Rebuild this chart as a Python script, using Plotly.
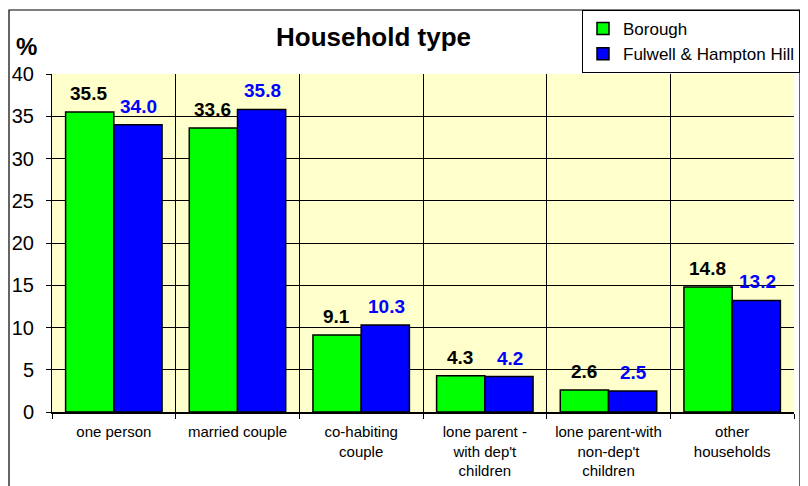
import plotly.graph_objects as go

categories = ["one person", "married couple", "co-habiting<br>couple",
              "lone parent -<br>with dep't<br>children",
              "lone parent-with<br>non-dep't<br>children",
              "other<br>households"]
borough = [35.5, 33.6, 9.1, 4.3, 2.6, 14.8]
fulwell = [34.0, 35.8, 10.3, 4.2, 2.5, 13.2]
y_ticks = [0, 5, 10, 15, 20, 25, 30, 35, 40]

FONT = "Liberation Sans, Arial, sans-serif"

fig = go.Figure()
fig.add_trace(go.Bar(x=categories, y=borough, name="Borough",
                     marker=dict(color="#00FF00", line=dict(color="black", width=1.5))))
fig.add_trace(go.Bar(x=categories, y=fulwell, name="Fulwell & Hampton Hill",
                     marker=dict(color="#0000FF", line=dict(color="black", width=1.5))))

annotations = []
for cat, b, f in zip(categories, borough, fulwell):
    annotations.append(dict(x=cat, y=b, text=f"{b:.1f}", showarrow=False, xshift=-25,
                            yanchor="bottom", yshift=6,
                            font=dict(family=FONT, size=19, color="black", weight="bold")))
    annotations.append(dict(x=cat, y=f, text=f"{f:.1f}", showarrow=False, xshift=25,
                            yanchor="bottom", yshift=6,
                            font=dict(family=FONT, size=19, color="#0000FF", weight="bold")))

annotations.append(dict(xref="paper", yref="paper", x=(373 - 52) / 742, y=(412 - 37) / 338,
                        text="<b>Household type</b>", showarrow=False,
                        xanchor="center", yanchor="middle",
                        font=dict(family=FONT, size=26, color="black")))
annotations.append(dict(xref="paper", yref="paper", x=(26 - 52) / 742, y=(412 - 46) / 338,
                        text="<b>%</b>", showarrow=False,
                        xanchor="center", yanchor="middle",
                        font=dict(family=FONT, size=24, color="black")))

# page body has an 8px margin, so the figure is drawn at (8, 8)
fig.update_layout(
    width=800, height=478,
    margin=dict(l=44, r=14, t=66, b=74, autoexpand=False),
    paper_bgcolor="white",
    plot_bgcolor="#FFFFCC",
    barmode="group",
    bargap=0.22,
    bargroupgap=0,
    font=dict(family=FONT, color="black"),
    showlegend=True,
    legend=dict(x=(800 - 52) / 742, y=(412 - 10) / 338, xanchor="right", yanchor="top",
                bgcolor="white", bordercolor="black", borderwidth=1,
                font=dict(family=FONT, size=17, color="black"),
                tracegroupgap=0, itemwidth=30),
    annotations=annotations,
    shapes=[dict(type="rect", xref="paper", yref="paper",
                 x0=(9 - 52) / 742, x1=(800 - 52) / 742,
                 y0=(412 - 495) / 338, y1=(412 - 10) / 338,
                 line=dict(color="black", width=1.2), fillcolor="rgba(0,0,0,0)",
                 layer="below")],
)

fig.update_xaxes(
    type="category",
    tickson="boundaries",
    showgrid=True, gridcolor="black", gridwidth=1,
    ticks="outside", ticklen=5, tickcolor="black",
    showline=True, linecolor="black", linewidth=2,
    tickfont=dict(family=FONT, size=15, color="black"),
    ticklabelstandoff=5,
)
fig.update_yaxes(
    range=[0, 40],
    tickvals=y_ticks,
    showgrid=True, gridcolor="black", gridwidth=1,
    ticks="outside", ticklen=5, tickcolor="black",
    showline=True, linecolor="black", linewidth=1,
    tickfont=dict(family=FONT, size=20, color="black"),
    ticklabelstandoff=8,
    zeroline=False,
)

fig.write_html("out.html")
